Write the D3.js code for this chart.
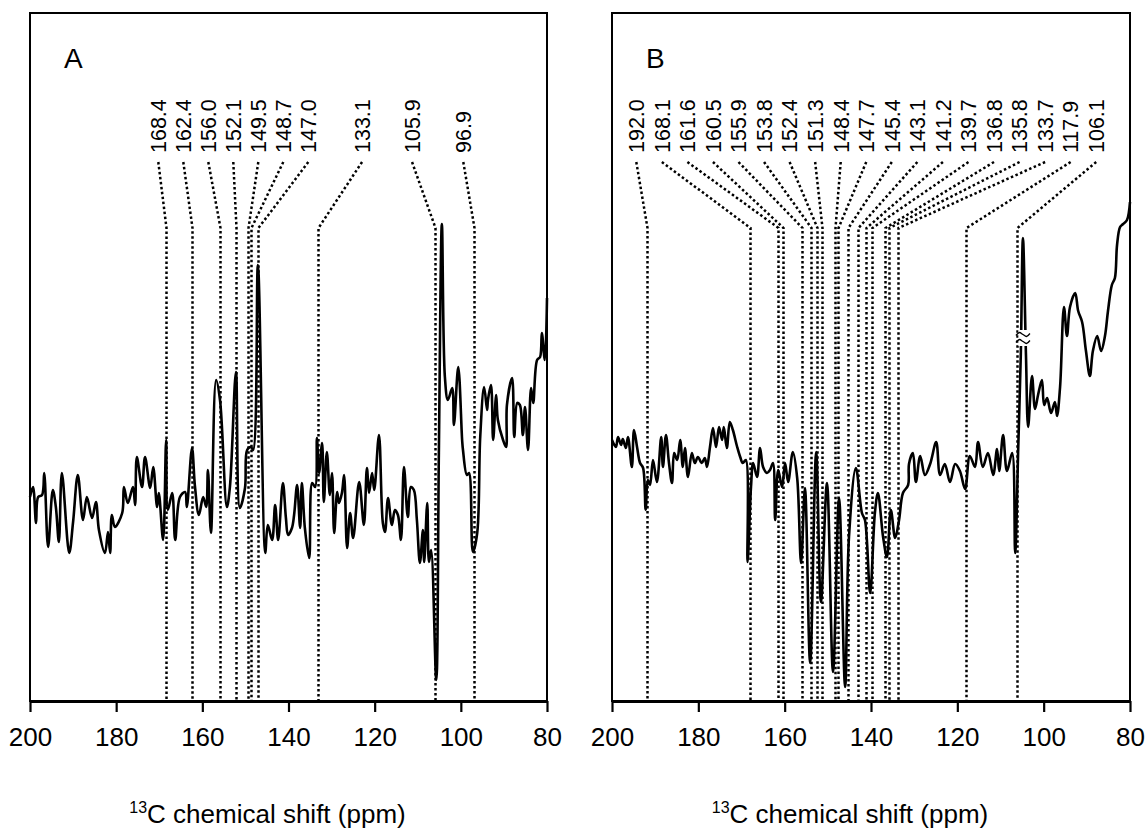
<!DOCTYPE html>
<html><head><meta charset="utf-8">
<script src="https://cdn.jsdelivr.net/npm/d3@7"></script>
<style>
body{margin:0;background:#fff}
svg{display:block}
text{font-family:"Liberation Sans", Arial, sans-serif; fill:#000}
</style>
</head><body>
<svg id="chart" width="1146" height="831"></svg>
<script>
// ---------------- DATA ----------------
const ppmA = [200.0,199.3,198.6,198.1,197.2,196.7,195.8,194.7,194.0,193.3,
192.6,190.9,190.0,188.9,187.7,186.8,185.6,184.7,184.0,182.6,
181.9,181.4,181.0,180.3,178.6,178.2,177.3,176.1,175.6,175.2,
174.0,173.3,172.1,171.4,170.5,170.1,169.1,168.4,168.0,167.0,
166.3,165.2,164.0,163.6,162.4,161.7,160.8,159.8,159.1,158.7,
158.0,156.8,155.9,154.3,153.6,152.2,151.3,150.1,149.6,148.7,
148.2,147.1,145.4,144.8,143.8,143.1,142.4,141.3,140.6,140.1,
139.2,138.7,138.0,137.3,136.9,136.2,135.2,134.5,133.8,133.4,
132.9,132.2,131.8,131.1,130.4,129.9,129.4,128.7,128.3,127.6,
127.1,126.4,125.7,125.0,123.6,122.5,121.8,121.3,120.6,120.1,
119.0,118.1,117.6,116.9,116.0,115.3,114.6,113.9,113.2,112.3,
111.6,110.9,110.2,109.5,108.8,108.5,107.8,107.4,106.9,105.7,
105.1,104.4,103.7,103.0,102.0,101.6,100.6,99.7,99.5,98.6,
98.1,97.2,96.2,95.5,94.6,93.9,93.7,93.0,92.5,91.8,
91.4,90.2,89.5,89.3,88.1,87.6,86.9,86.3,85.6,85.1,
84.4,83.7,83.2,82.3,81.6,81.2,80.5,80.0];
const intA = [203,213,177,203,205,227,153,210,193,158,
227,147,178,225,180,203,182,198,170,147,
168,147,185,173,187,213,197,213,195,243,
213,243,212,233,193,207,160,260,190,207,
160,203,208,193,252,213,185,203,193,230,
167,320,300,193,213,328,192,212,250,253,
250,435,147,175,160,195,160,217,182,165,
172,185,215,172,217,172,142,217,213,262,
227,257,198,248,205,227,167,208,197,207,
225,152,187,162,218,175,232,207,227,210,
265,177,168,202,175,190,185,160,233,183,
213,210,180,137,170,138,197,138,150,20,
247,476,323,300,312,275,333,260,250,225,
227,148,167,263,313,290,300,315,260,305,
280,260,253,295,322,263,297,295,265,293,
250,312,297,340,343,367,340,402];

const ppmB = [200.0,199.1,198.6,197.9,197.5,196.8,196.3,195.4,194.9,194.2,
193.5,192.8,192.2,191.7,191.2,190.5,189.6,188.6,188.2,187.5,
186.8,186.1,185.6,184.9,184.2,183.6,183.1,182.4,181.5,180.8,
180.1,179.2,178.5,178.0,177.3,176.6,175.9,175.2,174.5,174.1,
173.4,172.7,172.0,171.0,170.3,169.7,169.0,168.6,167.8,167.3,
166.4,165.7,165.0,164.1,163.4,162.7,162.2,161.5,160.6,159.9,
159.2,158.1,157.1,156.2,155.3,154.1,152.7,151.6,150.2,148.8,
147.4,146.0,145.1,143.5,142.1,141.4,140.2,139.1,138.4,137.2,
136.3,135.4,134.4,133.5,132.6,131.4,
131.2,130.3,129.6,128.6,127.5,126.3,124.9,124.0,122.9,121.7,
120.5,119.4,118.2,117.1,115.9,115.2,114.1,112.9,111.7,110.8,
110.3,109.4,108.5,107.3,106.6,105.9,105.3,104.8,104.1,103.6,
102.7,102.0,101.3,100.4,99.9,99.2,98.3,97.4,96.9,96.2,
95.3,94.6,93.9,92.7,92.0,91.1,90.2,89.3,88.6,87.6,
86.7,85.8,85.1,84.2,83.5,83.0,82.3,81.6,80.7,80.0];
const intB = [260,253,263,255,261,252,263,233,270,253,
237,232,190,220,215,240,218,263,233,265,
237,217,247,240,260,233,252,223,247,237,
243,237,242,233,253,272,253,273,260,273,
252,278,270,253,243,237,240,138,213,237,
223,252,233,227,230,237,180,230,213,237,
218,248,222,137,212,37,248,98,217,28,
202,13,163,232,187,180,107,187,207,163,
143,190,162,180,207,215,
236,247,218,244,225,236,258,225,236,218,
236,229,211,244,233,258,233,247,225,251,
229,265,229,247,147,251,345,462,345,273,
324,291,305,320,295,302,287,298,284,313,
393,364,393,407,389,378,349,324,349,364,
349,364,389,415,422,455,473,476,480,498];

const peaksA = [168.4,162.4,156.0,152.1,149.5,148.7,147.0,133.1,105.9,96.9];
const peaksB = [192.0,168.1,161.6,160.5,155.9,153.8,152.4,151.3,148.4,147.7,145.4,143.1,141.2,139.7,136.8,135.8,133.7,117.9,106.1];
const breakB = [104.8];            // axis-break mark on the truncated peak (ppm)
const breakLevelB = [362];         // intensity where the break sits
const xTicks = [200,180,160,140,120,100,80];
const panelNames = ["A","B"];
const isotope = "13";
const axisTitle = "C chemical shift (ppm)";

// ---------------- LAYOUT ----------------
const W = 1146, H = 831;
const plotTop = 13, plotBottom = 701;
const intMax = 687;
const labelBaseY = 153, leaderStartY = 162, kneeY = 228;
const slotsA = [0,1,2,3,4,5,6,8.15,10.15,12.2];

const panels = [
  {name: panelNames[0], x0: 30, x1: 547, ppm: ppmA, int: intA, peaks: peaksA,
   labelX: i => 158.3 + slotsA[i]*25, breaks: [], breakLevels: []},
  {name: panelNames[1], x0: 612, x1: 1130, ppm: ppmB, int: intB, peaks: peaksB,
   labelX: i => 636.3 + i*25.55, breaks: breakB, breakLevels: breakLevelB}
];

const svg = d3.select("#chart");
svg.append("rect").attr("width",W).attr("height",H).attr("fill","#fff");
const fmt = d3.format(".1f");
const FONT = "Liberation Sans, Arial, sans-serif";
const wave = d3.line().curve(d3.curveCatmullRom.alpha(0.5));

panels.forEach(p => {
  const x = d3.scaleLinear().domain([200,80]).range([p.x0, p.x1]);
  const y = d3.scaleLinear().domain([0,intMax]).range([plotBottom-1, plotTop]);
  const g = svg.append("g");

  // leaders + labels
  p.peaks.forEach((v,i) => {
    const lx = p.labelX(i), px = Math.round(x(v)) + 0.5;
    g.append("path")
      .attr("d", d3.line()([[lx,leaderStartY],[px,kneeY],[px,plotBottom-1]]))
      .attr("fill","none").attr("stroke","#000")
      .attr("stroke-width",2.5).attr("stroke-dasharray","2.5,2.5");
    g.append("text")
      .attr("transform",`translate(${lx+7.8},${labelBaseY}) rotate(-90)`)
      .attr("font-size",21.5).text(fmt(v));
  });

  // spectrum
  const data = p.ppm.map((d,i) => [d, p.int[i]]);
  g.append("path").datum(data)
    .attr("d", d3.line().curve(d3.curveCatmullRom.alpha(0.5)).x(d => x(d[0])).y(d => y(d[1])))
    .attr("fill","none").attr("stroke","#000")
    .attr("stroke-width",2.6).attr("stroke-linejoin","round");

  // axis break marks (two small waves)
  p.breaks.forEach((b,i) => {
    const bx = x(b), by = y(p.breakLevels[i]);
    g.append("rect").attr("x",bx-4.5).attr("y",by-8).attr("width",9).attr("height",16).attr("fill","#fff");
    [-3.5, 3.5].forEach(off => {
      g.append("path")
        .attr("d", wave([[bx-7,by+off+1],[bx-3.5,by+off-2],[bx,by+off],[bx+3.5,by+off+2],[bx+7,by+off-1]]))
        .attr("fill","none").attr("stroke","#000").attr("stroke-width",1.3);
    });
  });

  // frame
  g.append("rect").attr("x",p.x0).attr("y",plotTop)
    .attr("width",p.x1-p.x0).attr("height",plotBottom-plotTop)
    .attr("fill","none").attr("stroke","#000").attr("stroke-width",2);

  // x axis
  const ax = d3.axisBottom(x).tickValues(xTicks).tickSize(11).tickSizeOuter(0)
    .tickPadding(16).tickFormat(d3.format("d"));
  const ag = g.append("g").attr("transform",`translate(0,${plotBottom})`).call(ax);
  ag.attr("font-size",26).attr("font-family",FONT);
  ag.select(".domain").attr("stroke","#000").attr("stroke-width",2.8);
  ag.selectAll(".tick line").attr("stroke","#000").attr("stroke-width",2.2);
  ag.selectAll(".tick text").attr("fill","#000");

  // panel letter
  g.append("text").attr("x",p.x0+34).attr("y",68).attr("font-size",28).text(p.name);

  // axis title
  const t = g.append("text").attr("x",(p.x0+p.x1)/2 - 21).attr("y",823)
    .attr("text-anchor","middle").attr("font-size",26);
  t.append("tspan").attr("font-size",16).attr("dy",-10).text(isotope);
  t.append("tspan").attr("dy",10).text(axisTitle);
});
</script>
</body></html>
